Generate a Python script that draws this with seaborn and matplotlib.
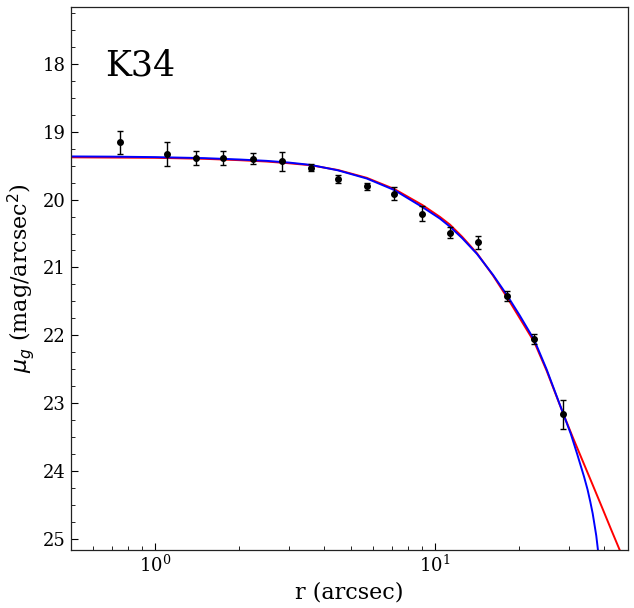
import numpy as np
import pandas as pd
import matplotlib
matplotlib.use("Agg")
import matplotlib.pyplot as plt
from matplotlib.ticker import MultipleLocator
import seaborn as sns

# --- datos observados (K34) ---
r_obs = [0.75, 1.10, 1.40, 1.75, 2.24, 2.85, 3.61, 4.51, 5.73, 7.15,
         9.01, 11.3, 14.2, 18.1, 22.6, 28.7]
mu_obs = [19.157, 19.324, 19.382, 19.382, 19.397, 19.437, 19.529, 19.700,
          19.804, 19.912, 20.206, 20.485, 20.632, 21.422, 22.059, 23.162]
mu_err = [0.17, 0.176, 0.103, 0.103, 0.08, 0.14, 0.057, 0.06,
          0.05, 0.095, 0.112, 0.085, 0.093, 0.07, 0.074, 0.213]

# --- modelo azul ---
r_blue = [0.5, 0.7, 1.0, 1.5, 2.0, 2.5, 3.0, 3.6, 4.5, 5.7, 7.15, 9.0, 10.4,
          11.3, 12.5, 14.1, 16.1, 18.0, 20.0, 22.6, 25.0, 28.7, 30.5, 32.1,
          34.0, 35.0, 35.8, 36.5, 37.0, 37.6, 38.1, 38.5]
mu_blue = [19.365, 19.368, 19.375, 19.39, 19.41, 19.43, 19.455, 19.49, 19.57,
           19.69, 19.86, 20.11, 20.28, 20.40, 20.57, 20.80, 21.11, 21.40, 21.70,
           22.07, 22.50, 23.16, 23.45, 23.74, 24.08, 24.27, 24.45, 24.62, 24.77,
           24.95, 25.15, 25.40]

# --- modelo rojo ---
r_red = [0.5, 1.0, 1.5, 2.0, 2.5, 3.0, 3.6, 4.5, 5.7, 7.15, 9.0, 10.4, 11.3,
         12.5, 14.1, 16.1, 18.0, 20.0, 22.6, 25.0, 28.7, 31.0, 33.4, 36.5,
         39.4, 42.5, 45.8, 47.0]
mu_red = [19.378, 19.385, 19.40, 19.42, 19.44, 19.465, 19.495, 19.565, 19.68,
          19.845, 20.08, 20.255, 20.37, 20.55, 20.79, 21.12, 21.43, 21.74, 22.10,
          22.52, 23.16, 23.50, 23.82, 24.20, 24.53, 24.86, 25.18, 25.30]

sns.set_style("ticks")
plt.rcParams['font.family'] = ['DejaVu Serif']
plt.rcParams['text.color'] = 'black'
plt.rcParams['axes.labelcolor'] = 'black'
plt.rcParams['xtick.color'] = 'black'
plt.rcParams['ytick.color'] = 'black'
plt.rcParams['xtick.direction'] = 'in'
plt.rcParams['ytick.direction'] = 'in'

fig = plt.figure(figsize=(6.34, 6.08), dpi=100)
ax = fig.add_axes([0.1115, 0.0954, 0.9913 - 0.1115, 0.989 - 0.0954])
ax.set_xscale('log')

df_blue = pd.DataFrame({'r': r_blue, 'mu': mu_blue})
df_red = pd.DataFrame({'r': r_red, 'mu': mu_red})
sns.lineplot(data=df_red, x='r', y='mu', color='red', lw=1.4, ax=ax,
             sort=False, estimator=None)
sns.lineplot(data=df_blue, x='r', y='mu', color='blue', lw=1.4, ax=ax,
             sort=False, estimator=None)

ax.errorbar(r_obs, mu_obs, yerr=mu_err, fmt='o', color='black', ms=4,
            elinewidth=1, capsize=2.5, capthick=1, zorder=5)

ax.set_xlim(0.5, 49)
ax.set_ylim(25.16, 17.16)
ax.yaxis.set_minor_locator(MultipleLocator(0.25))
ax.tick_params(axis='both', which='major', labelsize=13, length=5, width=0.8,
               top=False, right=False)
ax.tick_params(axis='both', which='minor', length=3, width=0.6,
               top=False, right=False)

ax.set_xlabel('r (arcsec)', fontsize=16)
ax.set_ylabel(r'$\mu_g$ (mag/arcsec$^2$)', fontsize=16)
ax.text(0.062, 0.873, 'K34', transform=ax.transAxes, fontsize=25)

for s in ax.spines.values():
    s.set_linewidth(0.9)
    s.set_color('#222222')

fig.savefig('out.png', dpi=100)
